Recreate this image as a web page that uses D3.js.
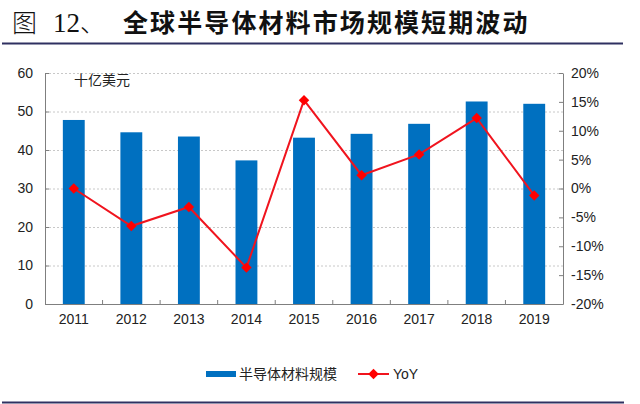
<!DOCTYPE html>
<html>
<head>
<meta charset="utf-8">
<script src="https://cdn.jsdelivr.net/npm/d3@7"></script>
<style>
  body { margin: 0; background: #fff; }
  svg { display: block; }
</style>
</head>
<body>
<svg id="chart"></svg>
<script>
// data
var years = ["2011", "2012", "2013", "2014", "2015", "2016", "2017", "2018", "2019"];
var marketSize = [47.8, 44.6, 43.5, 37.3, 43.2, 44.2, 46.8, 52.6, 52.0];
var yoy = [0.0, -6.5, -3.2, -13.7, 15.3, 2.3, 5.9, 12.2, -1.2];
var leftTicks = [0, 10, 20, 30, 40, 50, 60];
var rightTicks = [-20, -15, -10, -5, 0, 5, 10, 15, 20];

var W = 640, H = 404;
var margin = {top: 73, right: 77, bottom: 100, left: 45};
var width = W - margin.left - margin.right;
var height = H - margin.top - margin.bottom;

var root = d3.select("#chart").attr("width", W).attr("height", H);

// title
var title = root.append("text")
  .attr("y", 32)
  .style("font-size", "25px")
  .style("fill", "#111");
title.append("tspan")
  .attr("x", 12)
  .style("font-family", "'Noto Sans CJK SC', sans-serif")
  .style("font-weight", "300")
  .text("图");
title.append("tspan")
  .attr("x", 53)
  .style("font-family", "'Liberation Serif', 'DejaVu Serif', serif")
  .style("font-size", "27px")
  .text("12");
title.append("tspan")
  .style("font-family", "'Noto Sans CJK SC', sans-serif")
  .style("font-weight", "300")
  .text("、");
title.append("tspan")
  .attr("x", 123)
  .style("font-family", "'Noto Sans CJK SC', sans-serif")
  .style("font-weight", "bold")
  .style("letter-spacing", "2.1px")
  .text("全球半导体材料市场规模短期波动");

root.append("line")
  .attr("x1", 2).attr("x2", 623)
  .attr("y1", 43.5).attr("y2", 43.5)
  .attr("stroke", "#2f3061").attr("stroke-width", 2);

root.append("line")
  .attr("x1", 2).attr("x2", 624)
  .attr("y1", 402.5).attr("y2", 402.5)
  .attr("stroke", "#2f3061").attr("stroke-width", 2);

var svg = root.append("g")
  .attr("transform", "translate(" + margin.left + "," + margin.top + ")");

var xScale = d3.scaleBand()
  .domain(years)
  .range([0, width])
  .paddingInner(0.62)
  .paddingOuter(0.31);

var yLeft = d3.scaleLinear().domain([0, 60]).range([height, 0]);
var yRight = d3.scaleLinear().domain([-20, 20]).range([height, 0]);

// grid
svg.append("g")
  .selectAll("line")
  .data(leftTicks.slice(1))
  .enter()
  .append("line")
  .attr("x1", 0).attr("x2", width)
  .attr("y1", d => yLeft(d) + 0.5).attr("y2", d => yLeft(d) + 0.5)
  .attr("stroke", "#c8c8c8")
  .attr("stroke-dasharray", "2,2");

// bars
svg.selectAll(".bar")
  .data(marketSize)
  .enter()
  .append("rect")
  .attr("class", "bar")
  .attr("x", (d, i) => xScale(years[i]))
  .attr("width", xScale.bandwidth())
  .attr("y", d => yLeft(d))
  .attr("height", d => height - yLeft(d))
  .attr("fill", "#0070c0");

// axes
var axisColor = "#7f7f7f";
var fontFamily = "Arial, 'Liberation Sans', sans-serif";

var leftAxis = svg.append("g")
  .call(d3.axisLeft(yLeft).tickValues(leftTicks).tickSizeInner(-4).tickSizeOuter(0).tickPadding(12));

var rightAxis = svg.append("g")
  .attr("transform", "translate(" + width + ",0)")
  .call(d3.axisRight(yRight).tickValues(rightTicks).tickSizeInner(-4).tickSizeOuter(0).tickPadding(8)
    .tickFormat(d => d + "%"));

var bottomAxis = svg.append("g")
  .attr("transform", "translate(0," + height + ")")
  .call(d3.axisBottom(xScale).tickSize(0).tickPadding(10));

// category boundary ticks pointing up
var step = xScale.step();
svg.append("g")
  .selectAll("line")
  .data(d3.range(1, years.length))
  .enter()
  .append("line")
  .attr("x1", d => d * step).attr("x2", d => d * step)
  .attr("y1", height).attr("y2", height - 4)
  .attr("stroke", axisColor);

[leftAxis, rightAxis, bottomAxis].forEach(function(a) {
  a.selectAll("path, line").attr("stroke", axisColor);
  a.selectAll("text")
    .style("font-family", fontFamily)
    .style("font-size", "14px")
    .style("fill", "#222");
});
leftAxis.selectAll("text").attr("text-anchor", "end");

// yoy line
var line = d3.line()
  .x((d, i) => xScale(years[i]) + xScale.bandwidth() / 2)
  .y(d => yRight(d));

svg.append("path")
  .datum(yoy)
  .attr("fill", "none")
  .attr("stroke", "#f0141e")
  .attr("stroke-width", 2)
  .attr("d", line);

var diamond = d3.symbol().type(d3.symbolDiamond2).size(70);
svg.selectAll(".dot")
  .data(yoy)
  .enter()
  .append("path")
  .attr("class", "dot")
  .attr("d", diamond)
  .attr("transform", (d, i) => "translate(" + (xScale(years[i]) + xScale.bandwidth() / 2) + "," + yRight(d) + ")")
  .attr("fill", "#ff0000");

// unit label
svg.append("text")
  .attr("x", 29)
  .attr("y", 12)
  .style("font-family", "'Noto Sans CJK SC', sans-serif")
  .style("font-size", "14px")
  .style("fill", "#222")
  .text("十亿美元");

// legend
var legend = root.append("g").attr("transform", "translate(0,374)");
legend.append("rect")
  .attr("x", 206).attr("y", -3)
  .attr("width", 30).attr("height", 6)
  .attr("fill", "#0070c0");
legend.append("text")
  .attr("x", 239).attr("y", 5)
  .style("font-family", "'Noto Sans CJK SC', sans-serif")
  .style("font-size", "14px")
  .style("fill", "#222")
  .text("半导体材料规模");
legend.append("line")
  .attr("x1", 358).attr("x2", 389)
  .attr("y1", 0).attr("y2", 0)
  .attr("stroke", "#f0141e").attr("stroke-width", 2);
legend.append("path")
  .attr("d", diamond)
  .attr("transform", "translate(373.5,0)")
  .attr("fill", "#ff0000");
legend.append("text")
  .attr("x", 393).attr("y", 5)
  .style("font-family", fontFamily)
  .style("font-size", "14px")
  .style("fill", "#222")
  .text("YoY");
</script>
</body>
</html>
